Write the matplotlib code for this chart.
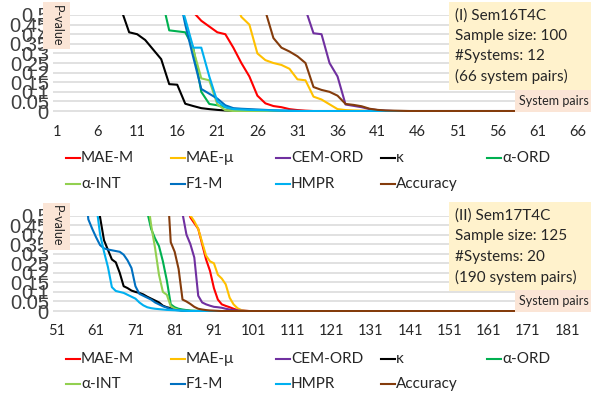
import numpy as np
import matplotlib.pyplot as plt
from matplotlib.lines import Line2D
from matplotlib.patches import Rectangle

plt.rcParams['font.family'] = ['Lato', 'DejaVu Sans']

W, H = 591, 398

metric_names = ["MAE-M", "MAE-μ", "CEM-ORD", "κ", "α-ORD",
                "α-INT", "F1-M", "HMPR", "Accuracy"]
metric_colors = ["#FF0000", "#FFC000", "#7030A0", "#000000", "#00B050",
                 "#92D050", "#0070C0", "#00B0F0", "#843C0C"]

# (I) Sem16T4C -- sorted p-values, pairs 1..66 (first value sits at the start pair)
sem16_pairs = (1, 66)
sem16_start = [17, 23, 31, 8, 14, 16, 16, 16, 26]
sem16_mae_m = [0.75, 0.515, 0.47, 0.44, 0.41, 0.40, 0.33, 0.25, 0.18, 0.08, 0.04,
               0.026, 0.02, 0.01, 0.005, 0.002, 0.0]
sem16_mae_mu = [0.59, 0.49, 0.45, 0.30, 0.265, 0.25, 0.24, 0.22, 0.165, 0.16, 0.075,
                0.06, 0.035, 0.01, 0.005, 0.003, 0.002, 0.001, 0.0]
sem16_cem_ord = [0.8, 0.53, 0.405, 0.40, 0.25, 0.18, 0.034, 0.027, 0.02, 0.01, 0.005,
                 0.002, 0.0]
sem16_kappa = [0.7, 0.53, 0.41, 0.40, 0.37, 0.32, 0.27, 0.14, 0.137, 0.038, 0.026,
               0.015, 0.01, 0.006, 0.003, 0.001, 0.0]
sem16_alpha_ord = [0.6, 0.42, 0.415, 0.41, 0.33, 0.10, 0.037, 0.03, 0.02, 0.01,
                   0.004, 0.001, 0.0]
sem16_alpha_int = [0.65, 0.47, 0.32, 0.17, 0.16, 0.035, 0.004, 0.0]
sem16_f1_m = [0.65, 0.45, 0.28, 0.115, 0.09, 0.065, 0.03, 0.015, 0.012, 0.01, 0.008,
              0.006, 0.004, 0.003, 0.002, 0.001, 0.0]
sem16_hmpr = [0.6, 0.48, 0.33, 0.33, 0.18, 0.05, 0.02, 0.01, 0.008, 0.006, 0.005,
              0.004, 0.003, 0.002, 0.001, 0.0]
sem16_accuracy = [0.9, 0.52, 0.38, 0.33, 0.31, 0.285, 0.25, 0.125, 0.11, 0.10, 0.08,
                  0.037, 0.032, 0.025, 0.012, 0.006, 0.003, 0.002, 0.001, 0.0]
sem16_xticks = list(range(1, 67, 5))

# (II) Sem17T4C -- sorted p-values, pairs from 51 on
sem17_pairs = (51, 183)
sem17_start = [84, 84, 82, 61, 73, 73, 58, 60, 78]
sem17_mae_m = [0.6, 0.49, 0.46, 0.43, 0.35, 0.27, 0.21, 0.12, 0.06, 0.035, 0.027,
               0.02, 0.012, 0.005, 0.002, 0.001, 0.0]
sem17_mae_mu = [0.62, 0.50, 0.47, 0.43, 0.36, 0.29, 0.26, 0.25, 0.19, 0.17, 0.14,
                0.07, 0.035, 0.015, 0.005, 0.001, 0.0]
sem17_cem_ord = [0.7, 0.51, 0.40, 0.35, 0.28, 0.08, 0.045, 0.035, 0.028, 0.022, 0.02,
                 0.017, 0.012, 0.008, 0.005, 0.003, 0.002, 0.001, 0.0]
sem17_kappa = [0.62, 0.49, 0.37, 0.32, 0.27, 0.255, 0.2, 0.13, 0.12, 0.107, 0.10,
               0.095, 0.087, 0.075, 0.065, 0.055, 0.045, 0.028, 0.02, 0.015, 0.01,
               0.006, 0.003, 0.001, 0.0]
sem17_alpha_ord = [0.65, 0.52, 0.43, 0.38, 0.34, 0.26, 0.16, 0.035, 0.02, 0.012,
                   0.008, 0.005, 0.003, 0.002, 0.001, 0.0]
sem17_alpha_int = [0.8, 0.6, 0.45, 0.33, 0.19, 0.10, 0.085, 0.025, 0.012, 0.006,
                   0.003, 0.001, 0.0]
sem17_f1_m = [0.7, 0.48, 0.43, 0.385, 0.345, 0.328, 0.322, 0.318, 0.314, 0.31, 0.295,
              0.265, 0.225, 0.13, 0.09, 0.08, 0.07, 0.06, 0.045, 0.035, 0.025, 0.018,
              0.01, 0.006, 0.004, 0.002, 0.001, 0.0]
sem17_hmpr = [0.8, 0.56, 0.40, 0.31, 0.23, 0.125, 0.105, 0.10, 0.095, 0.085, 0.075,
              0.065, 0.045, 0.03, 0.02, 0.015, 0.012, 0.01, 0.008, 0.006, 0.005, 0.004,
              0.003, 0.002, 0.001, 0.0]
sem17_accuracy = [0.9, 0.7, 0.36, 0.31, 0.22, 0.06, 0.05, 0.037, 0.022, 0.012, 0.008,
                  0.005, 0.003, 0.002, 0.001, 0.0]
sem17_xticks = list(range(51, 182, 10))

yticks = [0, 0.05, 0.1, 0.15, 0.2, 0.25, 0.3, 0.35, 0.4, 0.45, 0.5]
ytick_labels = ["0", "0.05", "0.1", "0.15", "0.2", "0.25", "0.3", "0.35", "0.4", "0.45", "0.5"]

sem16_info = ["(I) Sem16T4C", "Sample size: 100", "#Systems: 12", "(66 system pairs)"]
sem17_info = ["(II) Sem17T4C", "Sample size: 125", "#Systems: 20", "(190 system pairs)"]


def fx(px):
    return px / W


def fy(py):
    return 1 - py / H


def full_series(start, values, first, last):
    # nothing before the first listed pair is needed (it is above the 0.5 cut-off)
    y = np.full(last - first + 1, np.nan)
    k = start - first
    y[k:k + len(values)] = values
    y[k + len(values):] = 0.0
    return y


def box(fig, x0, y0, x1, y1, color):
    fig.add_artist(Rectangle((fx(x0), fy(y1)), fx(x1) - fx(x0), fy(y0) - fy(y1),
                             transform=fig.transFigure, facecolor=color,
                             edgecolor="none", zorder=5))


def draw_panel(fig, top_px, bottom_px, right_px, pairs, starts, series, xticks, xlim,
               info, tick_y, legend_y):
    ax = fig.add_axes([fx(53), fy(bottom_px), fx(right_px) - fx(53),
                       fy(top_px) - fy(bottom_px)])
    first, last = pairs
    x = np.arange(first, last + 1)
    for name, color, start, vals in zip(metric_names, metric_colors, starts, series):
        ax.plot(x, full_series(start, vals, first, last), color=color, lw=1.5,
                solid_joinstyle="round", zorder=3)
    ax.set_ylim(-0.005, 0.5)
    ax.set_xlim(*xlim)
    for t in yticks:
        ax.axhline(t, color="#D9D9D9", lw=1.1, zorder=1)
    ax.set_yticks(yticks)
    ax.set_yticklabels(ytick_labels, fontsize=14.5, family="Liberation Sans",
                       color="#404040")
    ax.set_xticks(xticks)
    ax.set_xticklabels([str(t) for t in xticks], fontsize=10.5, color="#262626")
    ax.tick_params(length=0, axis="y", pad=3)
    ax.tick_params(length=0, axis="x", pad=(tick_y - bottom_px) * 0.72 - 6)
    for s in ax.spines.values():
        s.set_visible(False)
    ax.patch.set_alpha(0)

    # text boxes
    box(fig, 449, top_px - 13, 591, top_px + 75, "#FFF2CC")
    for i, line in enumerate(info):
        fig.text(fx(455), fy(top_px + 0.5 + i * 20.4), line, fontsize=11,
                 va="center", ha="left", color="#262626", zorder=6)
    box(fig, 515, bottom_px - 22, 591, bottom_px - 0.5, "#FBE5D6")
    fig.text(fx(554), fy(bottom_px - 11), "System pairs", fontsize=9,
             va="center", ha="center", color="#262626", zorder=6)
    box(fig, 43, top_px - 13, 70, top_px + 34, "#FBE5D6")
    fig.text(fx(56.5), fy(top_px + 10.5), "P-value", fontsize=9, rotation=270,
             va="center", ha="center", color="#262626", zorder=6)

    # legend, five equal columns
    col_x = [66, 171, 276, 381, 487]
    for k, (name, color) in enumerate(zip(metric_names, metric_colors)):
        row, col = divmod(k, 5)
        x0, y0 = col_x[col], legend_y[row]
        fig.add_artist(Line2D([fx(x0), fx(x0 + 14)], [fy(y0), fy(y0)], color=color,
                              lw=1.5, transform=fig.transFigure))
        fig.text(fx(x0 + 15), fy(y0), name, fontsize=11, va="center", ha="left",
                 color="#262626")
    return ax


fig = plt.figure(figsize=(W / 100, H / 100), dpi=100)

draw_panel(fig, 15, 112, 582, sem16_pairs, sem16_start,
           [sem16_mae_m, sem16_mae_mu, sem16_cem_ord, sem16_kappa, sem16_alpha_ord,
            sem16_alpha_int, sem16_f1_m, sem16_hmpr, sem16_accuracy],
           sem16_xticks, (0.5, 66.5), sem16_info, 133, (158, 184))

draw_panel(fig, 215.5, 312, 577, sem17_pairs, sem17_start,
           [sem17_mae_m, sem17_mae_mu, sem17_cem_ord, sem17_kappa, sem17_alpha_ord,
            sem17_alpha_int, sem17_f1_m, sem17_hmpr, sem17_accuracy],
           sem17_xticks, (50.0, 183.5), sem17_info, 332, (359, 384))

fig.savefig("out.png", dpi=100)
